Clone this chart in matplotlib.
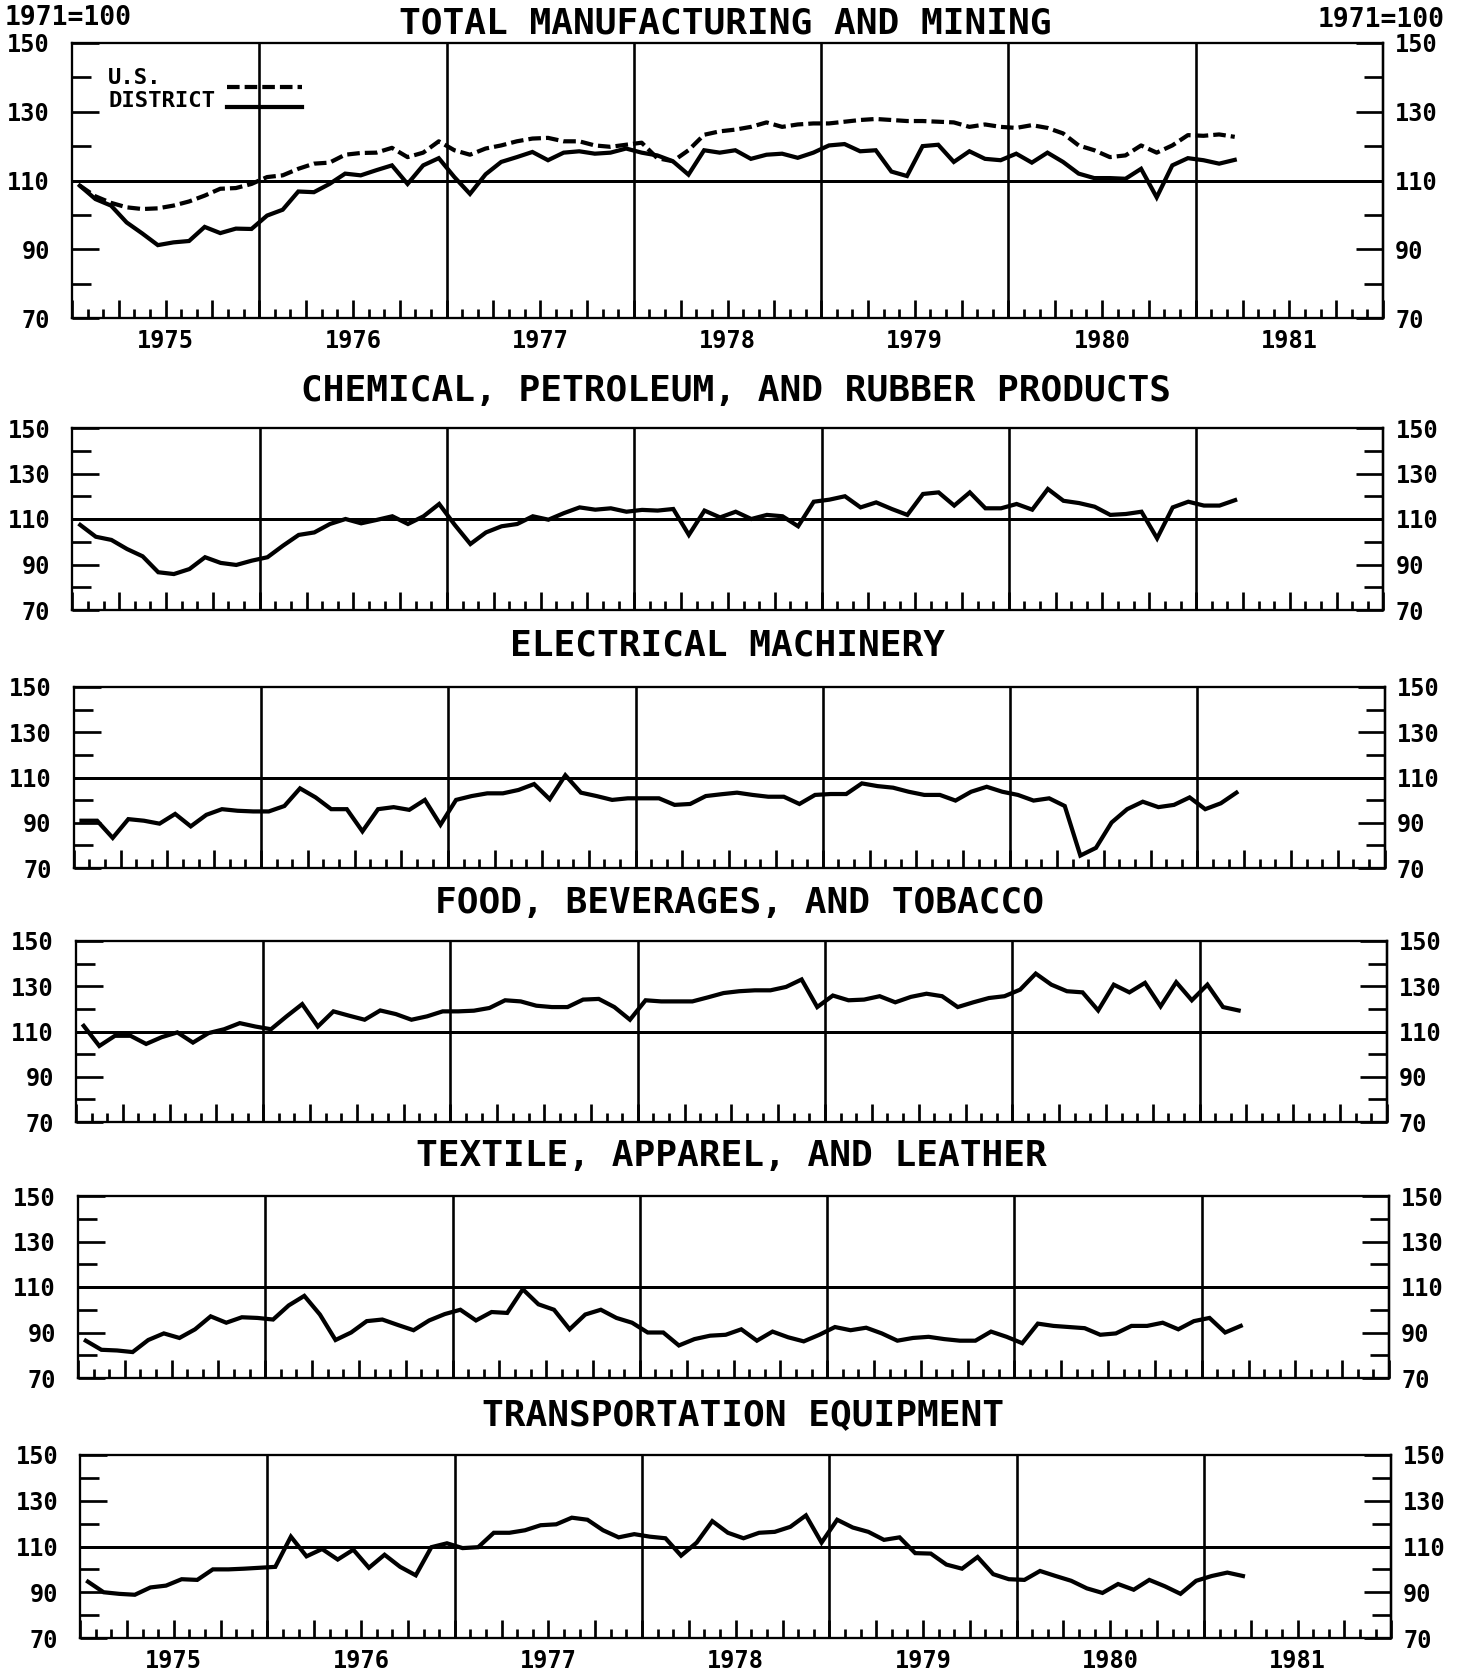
import matplotlib
matplotlib.use("Agg")
import matplotlib.pyplot as plt
from matplotlib.ticker import FixedLocator, FixedFormatter
import numpy as np

FONT = ['DejaVu Sans Mono', 'DejaVu Sans']
plt.rcParams['font.family'] = FONT
plt.rcParams['font.weight'] = 'bold'

# ---------------- data (monthly, Jan 1975 - Mar 1981), 1971=100 ----------------
start_year = 1975
n_months = 75

us_total = [108.5, 105.4, 103.5, 102.2, 101.7, 101.9, 102.7, 103.9, 105.6, 107.6,
            107.8, 109.0, 111.0, 111.5, 113.4, 114.9, 115.2, 117.5, 118.0, 118.1,
            119.5, 116.8, 118.1, 121.4, 118.8, 117.5, 119.3, 120.2, 121.4, 122.2,
            122.4, 121.4, 121.4, 120.2, 119.8, 120.4, 121.0, 116.5, 115.6, 118.8,
            123.3, 124.3, 124.8, 125.6, 126.9, 125.6, 126.3, 126.6, 126.6, 127.1,
            127.6, 127.9, 127.6, 127.3, 127.3, 127.1, 126.9, 125.6, 126.3, 125.6,
            125.3, 126.1, 125.3, 123.7, 120.2, 118.8, 116.8, 117.3, 120.2, 118.1,
            120.2, 123.2, 123.0, 123.4, 122.7]

district_total = [108.5, 104.6, 102.7, 97.8, 94.6, 91.2, 92.0, 92.4, 96.5, 94.7,
                  96.0, 95.9, 99.8, 101.5, 106.8, 106.6, 109.0, 112.0, 111.5, 113.0,
                  114.4, 109.0, 114.4, 116.5, 111.0, 106.1, 111.8, 115.4, 116.8, 118.3,
                  115.9, 118.1, 118.5, 117.8, 118.1, 119.3, 118.1, 117.3, 115.6, 111.7,
                  118.8, 118.1, 118.8, 116.3, 117.5, 117.8, 116.6, 118.1, 120.2, 120.6,
                  118.5, 118.8, 112.6, 111.3, 120.0, 120.4, 115.4, 118.5, 116.3, 115.9,
                  117.8, 115.2, 118.1, 115.4, 112.0, 110.7, 110.7, 110.5, 113.4, 105.1,
                  114.4, 116.5, 115.9, 114.9, 116.0]

chemical = [107.4, 102.2, 100.8, 96.8, 93.6, 86.6, 85.8, 88.0, 93.2, 90.7,
            89.8, 91.7, 93.2, 98.3, 103.0, 104.1, 107.8, 110.0, 108.1, 109.6,
            111.2, 107.8, 111.2, 116.6, 107.4, 99.0, 104.1, 106.8, 107.8, 111.2,
            109.7, 112.6, 115.1, 114.1, 114.7, 113.2, 114.0, 113.7, 114.4, 103.0,
            113.7, 110.7, 113.2, 110.0, 111.8, 111.2, 106.8, 117.6, 118.5, 120.0,
            115.1, 117.3, 114.4, 111.8, 121.0, 121.7, 115.9, 121.7, 114.7, 114.7,
            116.6, 114.1, 123.2, 118.0, 117.0, 115.4, 111.8, 112.2, 113.2, 101.5,
            115.1, 117.6, 115.9, 115.9, 118.3]

electrical = [90.9, 90.9, 83.3, 91.6, 90.9, 89.6, 93.9, 88.4, 93.5, 96.0,
              95.3, 95.0, 95.0, 97.4, 105.2, 101.2, 96.0, 96.0, 86.2, 96.0,
              96.9, 95.7, 100.1, 89.1, 100.1, 101.8, 103.0, 103.0, 104.5, 107.1,
              100.4, 111.0, 103.3, 101.8, 100.1, 100.8, 100.8, 100.8, 97.9, 98.3,
              101.8, 102.6, 103.3, 102.3, 101.5, 101.5, 98.3, 102.3, 102.7, 102.7,
              107.4, 106.2, 105.5, 103.7, 102.3, 102.3, 99.8, 103.7, 105.9, 103.7,
              102.3, 99.8, 100.8, 97.4, 75.5, 78.9, 90.1, 96.0, 99.3, 96.9,
              97.9, 101.2, 96.0, 98.6, 103.3]

food = [112.5, 103.6, 108.1, 108.1, 104.5, 107.5, 109.6, 105.1, 109.3, 111.0,
        113.7, 112.2, 111.0, 116.7, 122.1, 112.2, 118.9, 117.0, 115.2, 119.3,
        117.7, 115.2, 116.7, 118.9, 118.9, 119.2, 120.4, 123.8, 123.3, 121.4,
        120.8, 120.8, 124.1, 124.4, 120.8, 115.2, 123.8, 123.3, 123.3, 123.3,
        125.1, 127.0, 127.8, 128.2, 128.2, 129.7, 133.0, 120.8, 125.9, 123.8,
        124.1, 125.6, 122.9, 125.3, 126.7, 125.6, 120.8, 122.9, 124.8, 125.6,
        128.5, 135.6, 130.7, 127.8, 127.3, 119.3, 130.7, 127.3, 131.5, 121.1,
        131.8, 123.8, 130.7, 120.8, 119.3]

textile = [86.4, 82.4, 82.1, 81.4, 86.7, 89.6, 87.6, 91.4, 97.1, 94.3,
           96.7, 96.4, 95.7, 101.9, 106.1, 97.9, 86.7, 90.0, 95.0, 95.7,
           93.3, 91.0, 95.3, 98.1, 100.0, 95.3, 99.0, 98.6, 109.0, 102.4,
           100.0, 91.4, 97.9, 100.0, 96.4, 94.3, 90.0, 90.0, 84.3, 87.1,
           88.6, 89.0, 91.4, 86.4, 90.4, 87.9, 86.1, 89.0, 92.4, 91.0,
           92.1, 89.6, 86.4, 87.6, 88.1, 87.1, 86.4, 86.4, 90.4, 88.1,
           85.3, 93.9, 92.9, 92.4, 91.9, 89.0, 89.6, 92.9, 92.9, 94.3,
           91.4, 95.0, 96.4, 90.0, 92.9]

transport = [94.6, 90.0, 89.3, 88.9, 92.1, 92.9, 95.7, 95.4, 100.0, 100.0,
             100.3, 100.7, 101.1, 114.3, 105.7, 108.9, 104.3, 108.6, 100.7, 106.4,
             101.1, 97.4, 109.7, 111.4, 109.3, 109.7, 116.0, 116.0, 117.1, 119.3,
             119.7, 122.6, 121.7, 117.1, 114.0, 115.4, 114.3, 113.6, 106.0, 111.7,
             121.1, 116.0, 113.6, 116.0, 116.4, 118.6, 123.6, 111.7, 121.7, 118.3,
             116.4, 112.9, 114.0, 107.1, 106.9, 102.1, 100.3, 105.4, 97.9, 95.7,
             95.4, 99.3, 97.1, 95.0, 91.7, 89.7, 93.6, 91.1, 95.4, 92.6,
             89.3, 95.0, 97.1, 98.6, 97.1]

titles = ["TOTAL MANUFACTURING AND MINING",
          "CHEMICAL, PETROLEUM, AND RUBBER PRODUCTS",
          "ELECTRICAL MACHINERY",
          "FOOD, BEVERAGES, AND TOBACCO",
          "TEXTILE, APPAREL, AND LEATHER",
          "TRANSPORTATION EQUIPMENT"]
district_series = [district_total, chemical, electrical, food, textile, transport]
year_labels = ["1975", "1976", "1977", "1978", "1979", "1980", "1981"]
y_major = [70, 90, 110, 130, 150]
y_minor = [80, 100, 120, 140]
base_label = "1971=100"
legend_labels = ["U.S.", "DISTRICT"]

# ---------------- layout (pixels) ----------------
W, H = 1463, 1670
PANEL_W = 1311
# (top, bottom, left, title_y, title_dx)
layout = [(43, 318, 72.0, 23, -2),
          (428, 610, 72.4, 391, 8),
          (687, 868, 73.7, 646, -2),
          (941, 1122, 75.9, 903, 8),
          (1196, 1378, 78.0, 1156, -2),
          (1455, 1638, 80.2, 1415, 7)]


def pt(p):
    return p * 0.72  # pixels -> points at 100 dpi


x = start_year + (np.arange(n_months) + 0.5) / 12.0
years = np.arange(1975, 1983)
quarters = np.arange(1975, 1982.001, 0.25)
months_loc = np.arange(1975, 1982.001, 1 / 12)
q_labels = []
for q in quarters:
    frac = q - np.floor(q)
    if abs(frac - 0.5) < 1e-6 and int(np.floor(q)) - 1975 < len(year_labels):
        q_labels.append(year_labels[int(np.floor(q)) - 1975])
    else:
        q_labels.append("")

fig = plt.figure(figsize=(W / 100, H / 100), dpi=100)
fig.patch.set_facecolor("white")

LW_DATA = pt(4.2)
TICK_W = pt(2.7)
LBL = 17

for k, (top, bot, left, ty, tdx) in enumerate(layout):
    ax = fig.add_axes([left / W, 1 - bot / H, PANEL_W / W, (bot - top) / H])
    ax.set_xlim(1975, 1982)
    ax.set_ylim(70, 150)
    for s in ax.spines.values():
        s.set_linewidth(pt(2.3))
    ax.axhline(110, color="black", lw=pt(3.0), zorder=1.5)
    for yr in years[1:-1]:
        ax.axvline(yr, color="black", lw=pt(2.6), zorder=1.5)

    if k == 0:
        l_us, = ax.plot(x, us_total, color="black", lw=LW_DATA,
                        dashes=(3.0, 1.2), zorder=3)
        l_d, = ax.plot(x, district_series[k], color="black", lw=LW_DATA,
                       zorder=3, solid_joinstyle="miter")
        # legend: sample lines via legend, labels left-aligned as text
        ax.legend(handles=[l_us, l_d], labels=["", ""], loc="center left",
                  bbox_to_anchor=((227 - left) / PANEL_W, 1 - (99 - top) / (bot - top)),
                  frameon=False, fontsize=16, handlelength=3.38,
                  handletextpad=0, labelspacing=0.0, borderpad=0,
                  borderaxespad=0)
        ax.text((108 - left) / PANEL_W, 1 - (78 - top) / (bot - top), legend_labels[0],
                transform=ax.transAxes, ha="left", va="center", fontsize=16,
                fontweight="bold")
        ax.text((108 - left) / PANEL_W, 1 - (101 - top) / (bot - top), legend_labels[1],
                transform=ax.transAxes, ha="left", va="center", fontsize=16,
                fontweight="bold")
    else:
        ax.plot(x, district_series[k], color="black", lw=LW_DATA, zorder=3,
                solid_joinstyle="miter")

    # y axis (left)
    ax.yaxis.set_major_locator(FixedLocator(y_major))
    ax.yaxis.set_minor_locator(FixedLocator(y_minor))
    ax.tick_params(axis="y", which="major", direction="in", length=pt(27),
                   width=TICK_W, labelsize=LBL, pad=pt(22), left=True, right=False)
    ax.tick_params(axis="y", which="minor", direction="in", length=pt(19),
                   width=TICK_W, left=True, right=False)
    # y axis (right)
    sec = ax.secondary_yaxis("right")
    sec.set_yticks(y_major)
    sec.yaxis.set_minor_locator(FixedLocator(y_minor))
    sec.tick_params(axis="y", which="major", direction="in", length=pt(27),
                    width=TICK_W, labelsize=LBL, pad=pt(12))
    sec.tick_params(axis="y", which="minor", direction="in", length=pt(19),
                    width=TICK_W)
    sec.spines["right"].set_linewidth(pt(2.3))
    for lab in sec.get_yticklabels():
        lab.set_fontweight("bold")
        lab.set_family(FONT)

    # x axis
    ax.xaxis.set_major_locator(FixedLocator(quarters))
    ax.xaxis.set_major_formatter(FixedFormatter(q_labels))
    ax.xaxis.set_minor_locator(FixedLocator(months_loc))
    show_years = k in (0, len(layout) - 1)
    ax.tick_params(axis="x", which="major", direction="in", length=pt(18),
                   width=TICK_W, labelsize=LBL, pad=pt(11), top=False,
                   labelbottom=show_years)
    ax.tick_params(axis="x", which="minor", direction="in", length=pt(9),
                   width=TICK_W, top=False)

    fig.text((left + PANEL_W / 2 + tdx) / W, 1 - ty / H, titles[k], ha="center",
             va="center", fontsize=26, fontweight="bold")

fig.text(5 / W, 1 - 18 / H, base_label, ha="left", va="center", fontsize=19,
         fontweight="bold")
fig.text(1445 / W, 1 - 20 / H, base_label, ha="right", va="center", fontsize=19,
         fontweight="bold")

fig.savefig("out.png", dpi=100, facecolor="white")
